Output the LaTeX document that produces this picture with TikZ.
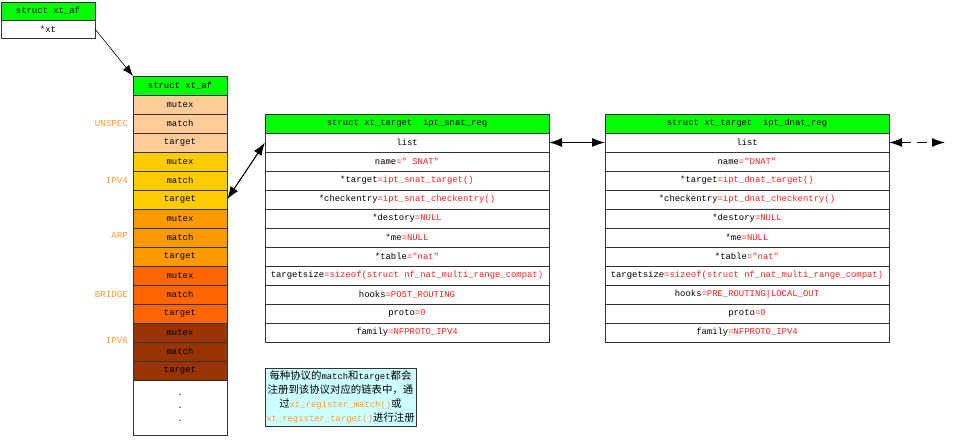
\documentclass[tikz,border=0pt]{standalone}
\usepackage{fontspec}
\setmonofont{Liberation Mono}
\newfontfamily\cjkfont{Noto Sans CJK SC}
\usetikzlibrary{positioning,arrows.meta}
\usepackage{xcolor}

\definecolor{hdgreen}{HTML}{00FF00}
\definecolor{unspeccol}{HTML}{FFCC99}
\definecolor{ipvfourcol}{HTML}{FFCC00}
\definecolor{arpcol}{HTML}{FF9900}
\definecolor{bridgecol}{HTML}{FF6600}
\definecolor{ipvsixcol}{HTML}{993300}
\definecolor{valred}{HTML}{FF2020}
\definecolor{lblorange}{HTML}{FF9933}
\definecolor{notecol}{HTML}{CCFFFF}

\newcommand{\kv}[2]{#1\textcolor{valred}{=#2}}
\newcommand{\zh}[1]{{\cjkfont\fontsize{10.4}{14}\selectfont #1}}

\begin{document}
\begin{tikzpicture}[
x=1pt, y=-1pt,
node distance=0pt,
every node/.style={font=\ttfamily\fontsize{8.9}{10}\selectfont, inner sep=0pt, outer sep=0pt},
field/.style={draw=black!80, line width=0.8pt, minimum height=19pt},
afcell/.style={field, minimum width=94pt},
regcell/.style={field, minimum width=284pt},
lbl/.style={text=lblorange, font=\ttfamily\fontsize{9.2}{10}\selectfont},
>={Latex[length=13pt,width=9pt]}
]
\useasboundingbox (0,0) rectangle (958,442);

%-------------------------
% xt_af
%-------------------------

\node[afcell, fill=hdgreen, minimum height=18pt, anchor=north] (afhead) at (48,2) {struct xt\_af};
\node[afcell, minimum height=18pt, below=of afhead] (afxt) {*xt};

%-------------------------
% xt[] por protocolo
%-------------------------

\node[afcell, fill=hdgreen, below right=38pt and 38pt of afxt] (xtaf) {struct xt\_af};

\node[afcell, fill=unspeccol, below=of xtaf] (unspecmutex) {mutex};
\node[afcell, fill=unspeccol, below=of unspecmutex] (unspecmatch) {match};
\node[afcell, fill=unspeccol, below=of unspecmatch] (unspectarget) {target};

\node[afcell, fill=ipvfourcol, below=of unspectarget] (ipv4mutex) {mutex};
\node[afcell, fill=ipvfourcol, below=of ipv4mutex] (ipv4match) {match};
\node[afcell, fill=ipvfourcol, below=of ipv4match] (ipv4target) {target};

\node[afcell, fill=arpcol, below=of ipv4target] (arpmutex) {mutex};
\node[afcell, fill=arpcol, below=of arpmutex] (arpmatch) {match};
\node[afcell, fill=arpcol, below=of arpmatch] (arptarget) {target};

\node[afcell, fill=bridgecol, below=of arptarget] (bridgemutex) {mutex};
\node[afcell, fill=bridgecol, below=of bridgemutex] (bridgematch) {match};
\node[afcell, fill=bridgecol, below=of bridgematch] (bridgetarget) {target};

\node[afcell, fill=ipvsixcol, below=of bridgetarget] (ipv6mutex) {mutex};
\node[afcell, fill=ipvsixcol, below=of ipv6mutex] (ipv6match) {match};
\node[afcell, fill=ipvsixcol, below=of ipv6match] (ipv6target) {target};

\node[afcell, minimum height=55pt, align=center, font=\ttfamily\fontsize{8.9}{13}\selectfont, below=of ipv6target] (more) {.\\.\\.};

\node[lbl, left=5pt of unspecmatch] (unspec) {UNSPEC};
\node[lbl, left=5pt of ipv4match] (ipv4) {IPV4};
\node[lbl, left=5pt of arpmatch, yshift=2pt] (arp) {ARP};
\node[lbl, left=5pt of bridgematch] (bridge) {BRIDGE};
\node[lbl, left=5pt of ipv6mutex, yshift=-8pt] (ipv6) {IPV6};

%-------------------------
% ipt_snat_reg
%-------------------------

\node[regcell, fill=hdgreen, below right=19pt and 38pt of xtaf] (snathead) {struct xt\_target~~ipt\_snat\_reg};
\node[regcell, below=of snathead] (snatlist) {list};
\node[regcell, below=of snatlist] (snatname) {\kv{name}{"~SNAT"}};
\node[regcell, below=of snatname] (snattarget) {\kv{*target}{ipt\_snat\_target()}};
\node[regcell, below=of snattarget] (snatcheck) {\kv{*checkentry}{ipt\_snat\_checkentry()}};
\node[regcell, below=of snatcheck] (snatdestory) {\kv{*destory}{NULL}};
\node[regcell, below=of snatdestory] (snatme) {\kv{*me}{NULL}};
\node[regcell, below=of snatme] (snattable) {\kv{*table}{"nat"}};
\node[regcell, below=of snattable] (snatsize) {\kv{targetsize}{sizeof(struct nf\_nat\_multi\_range\_compat)}};
\node[regcell, below=of snatsize] (snathooks) {\kv{hooks}{POST\_ROUTING}};
\node[regcell, below=of snathooks] (snatproto) {\kv{proto}{0}};
\node[regcell, below=of snatproto] (snatfamily) {\kv{family}{NFPROTO\_IPV4}};

%-------------------------
% ipt_dnat_reg
%-------------------------

\node[regcell, fill=hdgreen, right=56pt of snathead] (dnathead) {struct xt\_target~~ipt\_dnat\_reg};
\node[regcell, below=of dnathead] (dnatlist) {list};
\node[regcell, below=of dnatlist] (dnatname) {\kv{name}{"DNAT"}};
\node[regcell, below=of dnatname] (dnattarget) {\kv{*target}{ipt\_dnat\_target()}};
\node[regcell, below=of dnattarget] (dnatcheck) {\kv{*checkentry}{ipt\_dnat\_checkentry()}};
\node[regcell, below=of dnatcheck] (dnatdestory) {\kv{*destory}{NULL}};
\node[regcell, below=of dnatdestory] (dnatme) {\kv{*me}{NULL}};
\node[regcell, below=of dnatme] (dnattable) {\kv{*table}{"nat"}};
\node[regcell, below=of dnattable] (dnatsize) {\kv{targetsize}{sizeof(struct nf\_nat\_multi\_range\_compat)}};
\node[regcell, below=of dnatsize] (dnathooks) {\kv{hooks}{PRE\_ROUTING|LOCAL\_OUT}};
\node[regcell, below=of dnathooks] (dnatproto) {\kv{proto}{0}};
\node[regcell, below=of dnatproto] (dnatfamily) {\kv{family}{NFPROTO\_IPV4}};

\coordinate[right=56pt of dnatlist.east] (nextreg);

%-------------------------
% Nota
%-------------------------

\node[draw=black!80, line width=0.8pt, fill=notecol, minimum width=151pt, minimum height=58pt,
  align=center, font=\ttfamily\fontsize{8.9}{14}\selectfont,
  below=26pt of snatfamily.south west, anchor=north west] (note)
{\zh{每种协议的}match\zh{和}target\zh{都会}\\
 \zh{注册到该协议对应的链表中，通}\\
 \zh{过}\textcolor{lblorange}{xt\_register\_match()}\zh{或}\\
 \textcolor{lblorange}{xt\_register\_target()}\zh{进行注册}};

%-------------------------
% Flechas
%-------------------------

\draw[->, line width=0.6pt, >={Latex[length=11pt,width=8pt]}] (afxt.east) -- (xtaf.north west);

\draw[<->, line width=1.1pt] (ipv4target.east) -- (snatlist.west);
\draw[<->, line width=1.1pt] (snatlist.east) -- (dnatlist.west);
\draw[<->, line width=1.1pt, dash pattern=on 10pt off 6pt] (dnatlist.east) -- (nextreg);

\end{tikzpicture}
\end{document}
